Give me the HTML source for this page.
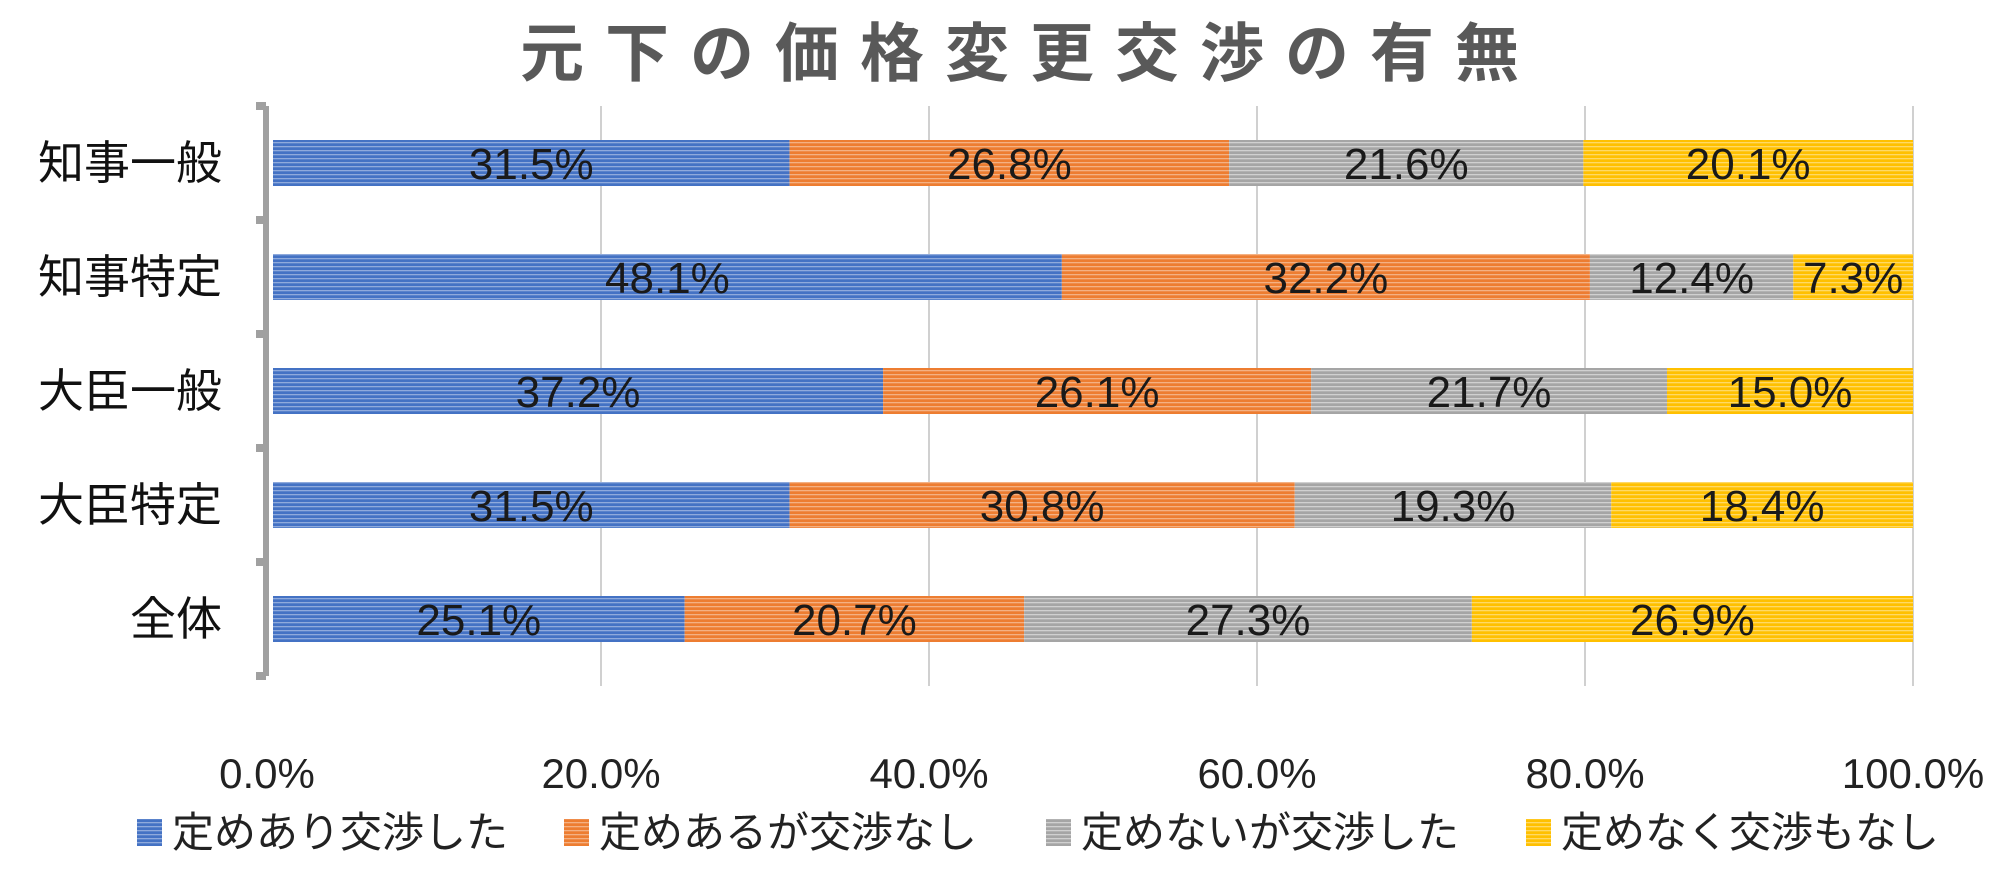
<!DOCTYPE html>
<html><head><meta charset="utf-8"><style>
html,body{margin:0;padding:0;background:#fff;}
svg{display:block;font-family:"Liberation Sans","Noto Sans CJK JP",sans-serif;}
</style></head><body>
<svg id="chart" width="2000" height="882" viewBox="0 0 2000 882">
<defs>
<pattern id="p0" width="8" height="4" patternUnits="userSpaceOnUse"><rect width="8" height="4" fill="#4472C4"/><rect y="2" width="8" height="1.3" fill="#8FAADC"/></pattern>
<pattern id="p1" width="8" height="4" patternUnits="userSpaceOnUse"><rect width="8" height="4" fill="#ED7D31"/><rect y="2" width="8" height="1.3" fill="#F4B183"/></pattern>
<pattern id="p2" width="8" height="4" patternUnits="userSpaceOnUse"><rect width="8" height="4" fill="#A5A5A5"/><rect y="2" width="8" height="1.3" fill="#D0D0D0"/></pattern>
<pattern id="p3" width="8" height="4" patternUnits="userSpaceOnUse"><rect width="8" height="4" fill="#FFC000"/><rect y="2" width="8" height="1.3" fill="#FFD966"/></pattern>
</defs>
<text x="1030" y="76" text-anchor="middle" font-size="64" font-weight="bold" fill="#595959" letter-spacing="21">元下の価格変更交渉の有無</text>
<g id="grid"></g><g id="bars"></g><g id="axis"></g><g id="legend"></g>
</svg>
<script>
const categories = ["知事一般","知事特定","大臣一般","大臣特定","全体"];
const seriesNames = ["定めあり交渉した","定めあるが交渉なし","定めないが交渉した","定めなく交渉もなし"];
const s0 = [31.5,48.1,37.2,31.5,25.1];
const s1 = [26.8,32.2,26.1,30.8,20.7];
const s2 = [21.6,12.4,21.7,19.3,27.3];
const s3 = [20.1,7.3,15.0,18.4,26.9];
const ticks = [0,20,40,60,80,100];
const tickLabels = ["0.0%","20.0%","40.0%","60.0%","80.0%","100.0%"];
const series=[s0,s1,s2,s3];
const NS="http://www.w3.org/2000/svg";
const X0=273,X1=1913,Y0=106,Y1=676;
const xs=v=>X0+(X1-X0)*v/100;
const band=(Y1-Y0)/categories.length;
const yc=i=>Y0+band*(i+0.5);
function mk(tag,attrs,parent,txt){const e=document.createElementNS(NS,tag);for(const k in attrs)e.setAttribute(k,attrs[k]);if(txt!=null)e.textContent=txt;parent.appendChild(e);return e;}
const grid=document.getElementById('grid'),bars=document.getElementById('bars'),axis=document.getElementById('axis'),legend=document.getElementById('legend');
ticks.forEach((t,i)=>{
  if(t>0){const l=mk('line',{x1:xs(t),x2:xs(t),y1:Y0,y2:Y1+10,stroke:'#D0D0D0','stroke-width':2},grid);
  
  }
  const tx=mk('text',{x:xs(t)-(t===0?6:0),y:788,'text-anchor':'middle','font-size':42,fill:'#222'},axis,tickLabels[i]);
  
  
});
categories.forEach((c,i)=>{
  let acc=0;const y=yc(i)-23;
  series.forEach((s,j)=>{
    const v=s[i];
    const r=mk('rect',{x:xs(acc),y:y,width:xs(acc+v)-xs(acc),height:46,fill:'url(#p'+j+')'},bars);
    
    
    const t=mk('text',{x:(xs(acc)+xs(acc+v))/2,y:yc(i)+16,'text-anchor':'middle','font-size':44,fill:'#1a1a1a'},bars,v.toFixed(1)+'%');
    
    
    acc+=v;
  });
  const ct=mk('text',{x:222,y:yc(i)+16,'text-anchor':'end','font-size':46,fill:'#111'},axis,c);
  
  
});
const al=mk('line',{x1:266,x2:266,y1:Y0,y2:Y1,stroke:'#A0A0A0','stroke-width':6},axis);


for(let k=0;k<=categories.length;k++){
  const tk=mk('rect',{x:256,y:Y0+band*k-4,width:10,height:8,fill:'#A0A0A0'},axis);
  
  
}
const lx=[137,564,1046,1526];
seriesNames.forEach((n,j)=>{
  const sq=mk('rect',{x:lx[j],y:819,width:25,height:27,fill:'url(#p'+j+')'},legend);
  
  
  const t=mk('text',{x:lx[j]+35,y:847,'font-size':42,fill:'#222'},legend,n);
  
  
});
</script>
</body></html>
